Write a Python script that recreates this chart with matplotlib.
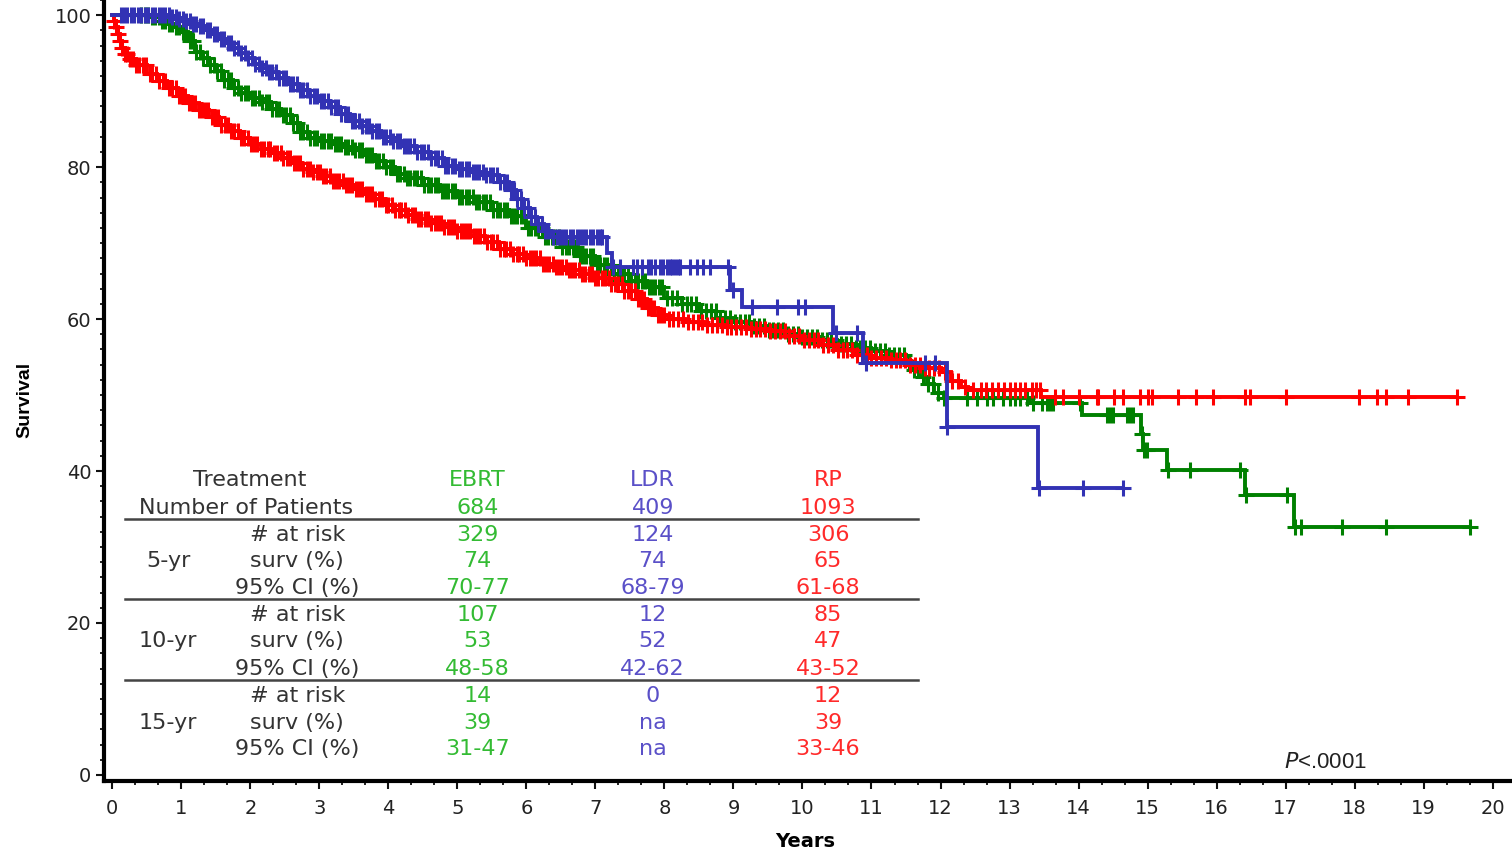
import numpy as np
import matplotlib
matplotlib.use("Agg")
import matplotlib.pyplot as plt
from matplotlib.ticker import MultipleLocator

# ---------------------------------------------------------
# KAPLAN-MEIER STEP DATA (years, survival %)
# ---------------------------------------------------------
ebrt_t = [0.0, 0.55, 0.7, 0.8, 0.9, 1.0, 1.1, 1.2, 1.3, 1.4, 1.5, 1.6, 1.75, 1.85, 2.0,
          2.15, 2.3, 2.45, 2.6, 2.72, 2.85, 3.0, 3.2, 3.35, 3.5, 3.65, 3.8, 3.95, 4.1,
          4.25, 4.5, 4.75, 5.0, 5.25, 5.5, 5.75, 6.0, 6.25, 6.5, 6.75, 7.0, 7.25, 7.5,
          7.75, 8.0, 8.25, 8.5, 8.75, 9.0, 9.25, 9.5, 9.75, 10.0, 10.25, 10.5, 10.75,
          11.0, 11.25, 11.5, 11.6, 11.7, 11.8, 11.9, 12.05, 13.3, 14.05, 14.91, 14.93,
          15.28, 16.41, 17.12]
ebrt_s = [100.0, 99.8, 99.3, 98.9, 98.4, 97.8, 96.6, 95.1, 94.3, 93.4, 92.6, 91.5, 90.4,
          89.7, 89.1, 88.6, 87.7, 86.8, 85.8, 84.6, 83.9, 83.4, 83.1, 82.7, 82.2, 81.6,
          80.8, 80.0, 79.1, 78.6, 77.7, 76.9, 76.1, 75.4, 74.4, 73.6, 72.0, 70.8, 69.5,
          68.3, 67.1, 66.0, 65.0, 64.2, 62.8, 62.0, 61.0, 60.2, 59.6, 59.1, 58.5, 58.0,
          57.6, 57.2, 56.7, 56.2, 55.8, 55.3, 54.4, 53.3, 52.4, 51.4, 50.3, 49.6, 48.9,
          47.4, 44.9, 42.8, 40.1, 36.8, 32.6]
ebrt_cens = [0.42, 0.47, 0.52, 0.57, 0.62, 0.67, 0.72, 0.77, 0.82, 0.87, 0.92, 0.97, 1.02,
             1.07, 1.12, 1.17, 1.22, 1.27, 1.32, 1.37, 1.42, 1.47, 1.52, 1.57, 1.62, 1.67,
             1.72, 1.77, 1.82, 1.87, 1.92, 1.97, 2.02, 2.07, 2.12, 2.17, 2.22, 2.27, 2.32,
             2.37, 2.42, 2.47, 2.52, 2.57, 2.62, 2.67, 2.72, 2.77, 2.82, 2.87, 2.92, 2.97,
             3.02, 3.07, 3.12, 3.17, 3.22, 3.27, 3.32, 3.37, 3.42, 3.47, 3.52, 3.57, 3.62,
             3.67, 3.72, 3.77, 3.82, 3.87, 3.92, 3.97, 4.02, 4.07, 4.12, 4.17, 4.22, 4.27,
             4.32, 4.37, 4.42, 4.47, 4.52, 4.57, 4.62, 4.67, 4.72, 4.77, 4.82, 4.87, 4.92,
             4.97, 5.02, 5.07, 5.12, 5.17, 5.22, 5.27, 5.32, 5.37, 5.42, 5.47, 5.52, 5.57,
             5.62, 5.67, 5.72, 5.77, 5.82, 5.87, 5.92, 5.97, 6.02, 6.07, 6.12, 6.17, 6.22,
             6.27, 6.32, 6.37, 6.42, 6.47, 6.52, 6.57, 6.62, 6.67, 6.72, 6.77, 6.82, 6.87,
             6.92, 6.97, 7.02, 7.07, 7.12, 7.17, 7.22, 7.27, 7.32, 7.37, 7.42, 7.47, 7.52,
             7.57, 7.62, 7.67, 7.72, 7.77, 7.82, 7.87, 7.92, 7.97, 8.04, 8.11, 8.18, 8.25,
             8.32, 8.39, 8.46, 8.53, 8.60, 8.67, 8.74, 8.81, 8.88, 8.95, 9.02, 9.09, 9.16,
             9.23, 9.30, 9.37, 9.44, 9.51, 9.58, 9.65, 9.72, 9.79, 9.86, 9.93, 10.00, 10.07,
             10.14, 10.21, 10.28, 10.35, 10.42, 10.49, 10.56, 10.63, 10.70, 10.77, 10.84,
             10.91, 10.98, 11.05, 11.12, 11.19, 11.26, 11.33, 11.40, 11.47, 11.54, 11.61,
             11.68, 11.75, 11.82, 11.89, 11.96, 12.05, 12.38, 12.53, 12.67, 12.76, 12.90,
             13.01, 13.08, 13.15, 13.25, 13.34, 13.47, 13.54, 13.58, 13.63, 14.02, 14.41,
             14.45, 14.50, 14.70, 14.74, 14.79, 14.92, 14.95, 14.99, 15.29, 15.61, 16.34,
             16.42, 17.02, 17.13, 17.23, 17.81, 18.46, 19.67]

ldr_t = [0.0, 0.85, 0.95, 1.05, 1.15, 1.25, 1.35, 1.45, 1.55, 1.65, 1.75, 1.85, 1.95, 2.05,
         2.15, 2.25, 2.4, 2.55, 2.7, 2.85, 3.0, 3.15, 3.3, 3.45, 3.6, 3.75, 3.9, 4.05, 4.2,
         4.4, 4.6, 4.8, 5.0, 5.2, 5.4, 5.6, 5.75, 5.85, 5.95, 6.05, 6.15, 6.25, 6.35, 7.17,
         7.24, 8.95, 9.12, 10.44, 10.88, 12.09, 13.41]
ldr_s = [100.0, 99.8, 99.5, 99.2, 98.9, 98.6, 98.0, 97.5, 96.9, 96.3, 95.7, 95.0, 94.3,
         93.6, 93.0, 92.5, 91.7, 90.9, 90.1, 89.4, 88.7, 87.9, 87.0, 86.1, 85.4, 84.7, 84.0,
         83.4, 82.8, 82.0, 81.2, 80.2, 79.8, 79.4, 79.0, 78.0, 77.0, 75.8, 74.6, 73.5, 72.5,
         71.6, 70.8, 68.7, 66.8, 63.8, 61.6, 58.2, 54.2, 45.8, 37.8]
ldr_cens = [0.12, 0.17, 0.22, 0.27, 0.32, 0.37, 0.42, 0.47, 0.52, 0.57, 0.62, 0.67, 0.72,
            0.77, 0.82, 0.87, 0.92, 0.97, 1.02, 1.07, 1.12, 1.17, 1.22, 1.27, 1.32, 1.37,
            1.42, 1.47, 1.52, 1.57, 1.62, 1.67, 1.72, 1.77, 1.82, 1.87, 1.92, 1.97, 2.02,
            2.07, 2.12, 2.17, 2.22, 2.27, 2.32, 2.37, 2.42, 2.47, 2.52, 2.57, 2.62, 2.67,
            2.72, 2.77, 2.82, 2.87, 2.92, 2.97, 3.02, 3.07, 3.12, 3.17, 3.22, 3.27, 3.32,
            3.37, 3.42, 3.47, 3.52, 3.57, 3.62, 3.67, 3.72, 3.77, 3.82, 3.87, 3.92, 3.97,
            4.02, 4.07, 4.12, 4.17, 4.22, 4.27, 4.32, 4.37, 4.42, 4.47, 4.52, 4.57, 4.62,
            4.67, 4.72, 4.77, 4.82, 4.87, 4.92, 4.97, 5.02, 5.07, 5.12, 5.17, 5.22, 5.27,
            5.32, 5.37, 5.42, 5.47, 5.52, 5.57, 5.62, 5.67, 5.72, 5.77, 5.82, 5.87, 5.92,
            5.97, 6.02, 6.07, 6.12, 6.17, 6.22, 6.27, 6.32, 6.38, 6.44, 6.49, 6.53, 6.58,
            6.63, 6.68, 6.73, 6.77, 6.82, 6.87, 6.92, 6.97, 7.02, 7.06, 7.10, 7.26, 7.36,
            7.55, 7.60, 7.68, 7.76, 7.81, 7.86, 7.93, 7.98, 8.04, 8.08, 8.11, 8.15, 8.20,
            8.23, 8.37, 8.47, 8.56, 8.66, 8.92, 9.00, 9.27, 9.63, 9.93, 10.04, 10.49, 10.79,
            10.92, 11.78, 11.92, 12.10, 13.42, 14.06, 14.64]

rp_t = [0.0, 0.02, 0.05, 0.08, 0.11, 0.14, 0.18, 0.24, 0.35, 0.5, 0.65, 0.8, 0.95, 1.1,
        1.25, 1.4, 1.55, 1.7, 1.85, 2.0, 2.15, 2.3, 2.45, 2.6, 2.75, 2.9, 3.05, 3.2, 3.35,
        3.5, 3.65, 3.8, 3.95, 4.1, 4.25, 4.4, 4.6, 4.8, 5.0, 5.2, 5.4, 5.6, 5.8, 6.0, 6.2,
        6.4, 6.6, 6.8, 7.0, 7.2, 7.4, 7.6, 7.75, 7.9, 8.05, 8.3, 8.6, 8.9, 9.2, 9.5, 9.75,
        10.0, 10.25, 10.5, 10.75, 11.0, 11.25, 11.5, 11.75, 12.0, 12.15, 12.3, 12.4, 13.45]
rp_s = [100.0, 99.2, 98.4, 97.5, 96.6, 95.7, 94.9, 94.2, 93.5, 92.3, 91.3, 90.4, 89.4,
        88.5, 87.5, 86.6, 85.6, 84.7, 83.9, 83.1, 82.4, 81.8, 81.2, 80.5, 79.8, 79.3, 78.8,
        78.2, 77.7, 77.1, 76.5, 75.8, 75.0, 74.3, 73.7, 73.2, 72.6, 72.1, 71.6, 70.9, 70.2,
        69.2, 68.6, 68.1, 67.3, 66.8, 66.4, 66.0, 65.4, 64.6, 63.7, 62.6, 61.5, 60.6, 60.0,
        59.6, 59.2, 58.9, 58.7, 58.4, 57.8, 57.2, 56.6, 55.9, 55.3, 54.9, 54.6, 54.0, 53.6,
        53.0, 51.9, 51.1, 50.7, 49.7]
rp_cens = [0.02, 0.05, 0.08, 0.11, 0.14, 0.18, 0.21, 0.26, 0.30, 0.35, 0.39, 0.44, 0.49,
           0.54, 0.58, 0.63, 0.68, 0.73, 0.77, 0.82, 0.87, 0.92, 0.96, 1.01, 1.06, 1.11,
           1.15, 1.20, 1.25, 1.30, 1.34, 1.39, 1.44, 1.49, 1.53, 1.58, 1.63, 1.68, 1.72,
           1.77, 1.82, 1.87, 1.91, 1.96, 2.01, 2.06, 2.10, 2.15, 2.20, 2.25, 2.29, 2.34,
           2.39, 2.44, 2.48, 2.53, 2.58, 2.63, 2.67, 2.72, 2.77, 2.82, 2.86, 2.91, 2.96,
           3.01, 3.05, 3.10, 3.15, 3.20, 3.24, 3.29, 3.34, 3.39, 3.43, 3.48, 3.53, 3.58,
           3.62, 3.67, 3.72, 3.77, 3.81, 3.86, 3.91, 3.96, 4.00, 4.05, 4.10, 4.15, 4.19,
           4.24, 4.29, 4.34, 4.38, 4.43, 4.48, 4.53, 4.57, 4.62, 4.67, 4.72, 4.76, 4.81,
           4.86, 4.91, 4.95, 5.00, 5.05, 5.10, 5.14, 5.19, 5.24, 5.29, 5.33, 5.38, 5.43,
           5.48, 5.52, 5.57, 5.62, 5.67, 5.71, 5.76, 5.81, 5.86, 5.90, 5.95, 6.00, 6.05,
           6.09, 6.14, 6.19, 6.24, 6.28, 6.33, 6.38, 6.43, 6.47, 6.52, 6.57, 6.62, 6.66,
           6.71, 6.76, 6.81, 6.85, 6.90, 6.95, 7.00, 7.04, 7.09, 7.14, 7.19, 7.23, 7.28,
           7.33, 7.38, 7.42, 7.47, 7.52, 7.57, 7.61, 7.66, 7.71, 7.76, 7.80, 7.85, 7.90,
           7.95, 7.99, 8.06, 8.13, 8.20, 8.27, 8.34, 8.41, 8.48, 8.55, 8.62, 8.69, 8.76,
           8.83, 8.90, 8.97, 9.04, 9.11, 9.18, 9.25, 9.32, 9.39, 9.46, 9.53, 9.60, 9.67,
           9.74, 9.81, 9.88, 9.95, 10.02, 10.09, 10.16, 10.23, 10.30, 10.37, 10.44, 10.51,
           10.58, 10.65, 10.72, 10.79, 10.86, 10.93, 11.00, 11.07, 11.14, 11.21, 11.28,
           11.35, 11.42, 11.49, 11.56, 11.63, 11.70, 11.77, 11.84, 11.91, 11.98, 12.06,
           12.16, 12.25, 12.36, 12.47, 12.58, 12.66, 12.75, 12.84, 12.92, 13.00, 13.08,
           13.15, 13.22, 13.32, 13.38, 13.44, 13.66, 13.77, 14.00, 14.26, 14.28, 14.52,
           14.64, 14.89, 15.00, 15.06, 15.44, 15.70, 15.95, 16.41, 16.48, 17.00, 18.06,
           18.32, 18.45, 18.77, 19.48]

# ---------------------------------------------------------
# SUMMARY TABLE
# ---------------------------------------------------------
treatments = ["EBRT", "LDR", "RP"]
n_patients = ["684", "409", "1093"]
row_labels = ["# at risk", "surv (%)", "95% CI (%)"]
periods = ["5-yr", "10-yr", "15-yr"]
ebrt_stats = ["329", "74", "70-77", "107", "53", "48-58", "14", "39", "31-47"]
ldr_stats = ["124", "74", "68-79", "12", "52", "42-62", "0", "na", "na"]
rp_stats = ["306", "65", "61-68", "85", "47", "43-52", "12", "39", "33-46"]

LINE_COLORS = {"EBRT": "#008000", "LDR": "#3232b4", "RP": "#ff0000"}
TEXT_COLORS = {"EBRT": "#33bb33", "LDR": "#5a50c8", "RP": "#ff2a2a"}
TABLE_GRAY = "#333333"


def surv_at(t_knots, s_knots, times):
    idx = np.searchsorted(np.asarray(t_knots), np.asarray(times), side="right") - 1
    return np.asarray(s_knots)[idx]


def draw_km(ax, t, s, cens, color):
    t_end = max(cens[-1], t[-1])
    ax.step(list(t) + [t_end], list(s) + [s[-1]], where="post",
            color=color, lw=2.8, solid_joinstyle="miter", zorder=3)
    ax.plot(cens, surv_at(t, s, cens), ls="none", marker="+",
            ms=12, mew=2.2, color=color, zorder=3)


fig = plt.figure(figsize=(15.12, 8.49), dpi=100)
ax = fig.add_axes([104 / 1512, 1 - 781 / 849, 1 - 104 / 1512, 781 / 849])

draw_km(ax, ebrt_t, ebrt_s, ebrt_cens, LINE_COLORS["EBRT"])
draw_km(ax, rp_t, rp_s, rp_cens, LINE_COLORS["RP"])
draw_km(ax, ldr_t, ldr_s, ldr_cens, LINE_COLORS["LDR"])

ax.set_xlim(-0.12, 20.28)
ax.set_ylim(-0.8, 102.0)
ax.set_xticks(range(0, 21))
ax.set_yticks(range(0, 101, 20))
ax.xaxis.set_minor_locator(MultipleLocator(1 / 3))
ax.yaxis.set_minor_locator(MultipleLocator(2))
ax.tick_params(which="major", length=6, width=1.5, labelsize=14,
               labelcolor="#222222", color="#111111")
ax.tick_params(which="minor", length=3, width=1.3, color="#111111")
ax.tick_params(axis="x", which="major", pad=7)
ax.tick_params(axis="y", which="major", pad=3)
for side in ["top", "right"]:
    ax.spines[side].set_visible(False)
for side in ["left", "bottom"]:
    ax.spines[side].set_linewidth(3.0)
    ax.spines[side].set_color("black")

# table laid out in data units
col_x = [5.29, 7.83, 10.37]
stat_cols = [ebrt_stats, ldr_stats, rp_stats]
header_y = [38.8, 35.1]
row_y = [31.6, 28.2, 24.6, 21.1, 17.6, 14.0, 10.4, 6.8, 3.4]
rule_y = [33.7, 23.15, 12.5]
fs = 16

ax.text(1.99, header_y[0], "Treatment", ha="center", va="center", fontsize=fs, color=TABLE_GRAY)
ax.text(1.94, header_y[1], "Number of Patients", ha="center", va="center", fontsize=fs, color=TABLE_GRAY)
for x, name, n in zip(col_x, treatments, n_patients):
    ax.text(x, header_y[0], name, ha="center", va="center", fontsize=fs, color=TEXT_COLORS[name])
    ax.text(x, header_y[1], n, ha="center", va="center", fontsize=fs, color=TEXT_COLORS[name])

for i, y in enumerate(row_y):
    ax.text(2.68, y, row_labels[i % 3], ha="center", va="center", fontsize=fs, color=TABLE_GRAY)
    if i % 3 == 1:
        ax.text(0.81, y, periods[i // 3], ha="center", va="center", fontsize=fs, color=TABLE_GRAY)
    for x, name, vals in zip(col_x, treatments, stat_cols):
        ax.text(x, y, vals[i], ha="center", va="center", fontsize=fs, color=TEXT_COLORS[name])

for y in rule_y:
    ax.plot([0.19, 11.67], [y, y], color="#444444", lw=1.8, zorder=2)

ax.text(17.58, 1.7, r"$\mathit{P}$<.0001", ha="center", va="center", fontsize=16,
        color="#222222", family="Liberation Sans")

fig.text(25 / 1512, 1 - 400 / 849, "Survival", rotation=90, ha="center", va="center",
         fontsize=14, fontweight="bold", family="Liberation Sans")
fig.text(805 / 1512, 1 - 832 / 849, "Years", ha="center", va="top",
         fontsize=14, fontweight="bold")

fig.savefig("out.png", dpi=100)
